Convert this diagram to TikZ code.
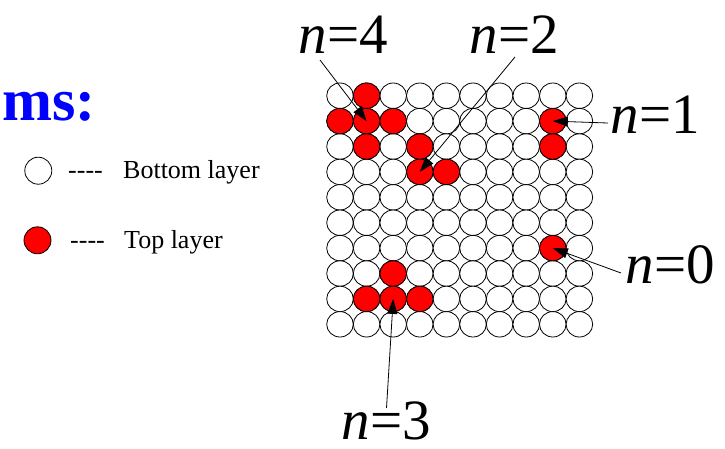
\documentclass[tikz,border=0pt]{standalone}
\usepackage{fontspec}
\setmainfont{Liberation Serif}
\usetikzlibrary{arrows.meta,shapes.geometric}
\newcommand{\fourdash}{\mbox{-}\mbox{-}\mbox{-}\mbox{-}}
\begin{document}
\begin{tikzpicture}[x=1pt,y=-1pt,
  cell/.style={ellipse, draw=black, line width=0.8pt, minimum width=26.6pt, minimum height=25.4pt, inner sep=0pt},
  bot/.style={cell, fill=white},
  topc/.style={cell, fill=red},
  legc/.style={circle, draw=black, line width=0.8pt, minimum size=27pt, inner sep=0pt},
  lab/.style={font=\fontsize{57}{60}\selectfont, inner sep=0pt, anchor=base west},
  leg/.style={font=\fontsize{26}{30}\selectfont, inner sep=0pt, anchor=base west},
  arr/.style={-{Triangle[length=15pt,width=10pt]}, line width=0.8pt}]
\useasboundingbox (0,0) rectangle (725,448);
% grid
\foreach \r in {0,...,9}{
  \foreach \c in {0,...,9}{
    \node[bot] (c-\r-\c) at ({340+26.6*\c},{95.7+25.4*\r}) {};
  }
}
\foreach \r/\c in {0/1,1/0,1/1,1/2,1/8,2/1,2/3,2/8,3/3,3/4,6/8,7/2,8/1,8/2,8/3}{
  \node[topc] (c-\r-\c) at ({340+26.6*\c},{95.7+25.4*\r}) {};
}
% legend
\node[anchor=base west, inner sep=0pt, text=blue, font=\fontsize{60}{64}\selectfont\bfseries] (title) at (2,120) {ms:};
\node[legc, fill=white] (lb) at (38.3,170.7) {};
\node[leg] (db) at (68,178) {\fourdash};
\node[leg] (tb) at (123,178) {Bottom layer};
\node[legc, fill=red] (lt) at (37.5,240.3) {};
\node[leg] (dt) at (70,248) {\fourdash};
\node[leg] (tt) at (124,248) {Top layer};
% labels
\node[lab] (n4) at (298,53) {\textit{n}\kern1pt=4};
\node[lab] (n2) at (469,53) {\textit{n}\kern1pt=2};
\node[lab] (n1) at (610,133) {\textit{n}\kern1pt=1};
\node[lab] (n0) at (625,283) {\textit{n}\kern1pt=0};
\node[lab] (n3) at (341,439) {\textit{n}\kern1pt=3};
% arrow start points
\coordinate (s4) at (320,60);
\coordinate (s2) at (515,57);
\coordinate (s1) at (608,123);
\coordinate (s0) at (621,273);
\coordinate (s3) at (386.5,408);
\draw[arr] (s4) -- (c-1-1.center);
\draw[arr] (s2) -- (c-3-3.center);
\draw[arr] (s1) -- (c-1-8.center);
\draw[arr] (s0) -- (c-6-8.center);
\draw[arr] (s3) -- (c-8-2.center);
\end{tikzpicture}
\end{document}
